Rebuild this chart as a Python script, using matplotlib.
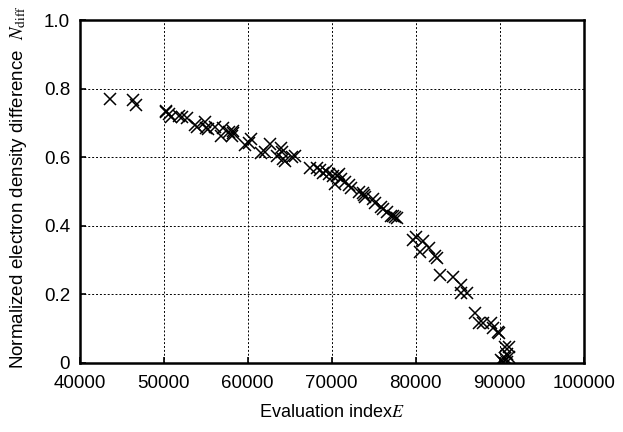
import matplotlib
matplotlib.use('Agg')
import matplotlib.pyplot as plt
import numpy as np
from matplotlib.ticker import FixedLocator, FixedFormatter

# 数据
eval_index = [43560, 46320, 46750, 50240, 50570, 50300, 50900, 51760, 52230, 52800,
              53740, 53920, 54920, 55060, 55250, 56100, 56800, 57030, 57740, 58080,
              58190, 58290, 59710, 60330, 60100, 61620, 62090, 62660, 63520, 63900,
              64090, 64230, 64470, 65320, 65650, 67410, 68270, 68650, 68980, 69310,
              69690, 70170, 70400, 70640, 70880, 71110, 71590, 72070, 72300, 73250,
              73730, 73870, 73970, 74920, 75150, 75870, 76100, 76580, 77050, 77290,
              77770, 77530, 79670, 80050, 80520, 80860, 81570, 82280, 82520, 82900,
              84420, 85370, 85370, 86080, 87030, 87510, 87980, 88930, 89170, 89740,
              89880, 90590, 91070, 90830, 90360, 90830, 90120, 91070, 90590]
n_diff = [0.770, 0.768, 0.753, 0.736, 0.726, 0.731, 0.719, 0.721, 0.719, 0.714,
          0.694, 0.690, 0.702, 0.687, 0.682, 0.688, 0.663, 0.686, 0.674, 0.661,
          0.678, 0.670, 0.636, 0.653, 0.641, 0.612, 0.617, 0.639, 0.604, 0.626,
          0.616, 0.596, 0.589, 0.602, 0.604, 0.570, 0.570, 0.563, 0.555, 0.560,
          0.550, 0.545, 0.521, 0.545, 0.550, 0.536, 0.528, 0.518, 0.511, 0.499,
          0.497, 0.489, 0.485, 0.477, 0.467, 0.456, 0.448, 0.440, 0.428, 0.430,
          0.423, 0.426, 0.360, 0.368, 0.325, 0.355, 0.335, 0.311, 0.306, 0.257,
          0.252, 0.228, 0.203, 0.205, 0.145, 0.115, 0.115, 0.115, 0.101, 0.091,
          0.086, 0.047, 0.047, 0.027, 0.003, 0.003, 0.008, 0.018, 0.013]

xticks = [40000, 50000, 60000, 70000, 80000, 90000, 100000]
yticks = [0.0, 0.2, 0.4, 0.6, 0.8, 1.0]
ytick_labels = ['0', '0.2', '0.4', '0.6', '0.8', '1.0']

plt.rcParams['font.family'] = ['Liberation Sans', 'DejaVu Sans']
plt.rcParams['mathtext.fontset'] = 'stix'

fig = plt.figure(figsize=(6.23, 4.32), dpi=100)
ax = fig.add_axes([0.128, 0.160, 0.809, 0.793])

ax.plot(eval_index, n_diff, linestyle='none', marker='x', markersize=8,
        markeredgewidth=1.1, color='black')

ax.set_xlim(40000, 100000)
ax.set_ylim(0, 1)
ax.xaxis.set_major_locator(FixedLocator(xticks))
ax.xaxis.set_major_formatter(FixedFormatter([str(x) for x in xticks]))
ax.yaxis.set_major_locator(FixedLocator(yticks))
ax.yaxis.set_major_formatter(FixedFormatter(ytick_labels))

ax.grid(True, color='black', linestyle=(0, (2, 2)), linewidth=0.7)
ax.tick_params(direction='in', length=4, width=1.2, labelsize=13.5,
               top=False, right=False)
ax.tick_params(axis='x', pad=9)
ax.tick_params(axis='y', pad=7)
for s in ax.spines.values():
    s.set_linewidth(1.8)

ax.set_xlabel('Evaluation index$E$', fontsize=13)
ax.xaxis.set_label_coords(0.5, -0.12)
ax.set_ylabel('Normalized electron density difference  $N_{\\rm diff}$',
              fontsize=13.5)
ax.yaxis.set_label_coords(-0.1, 0.512)

fig.savefig('out.png', dpi=100)
